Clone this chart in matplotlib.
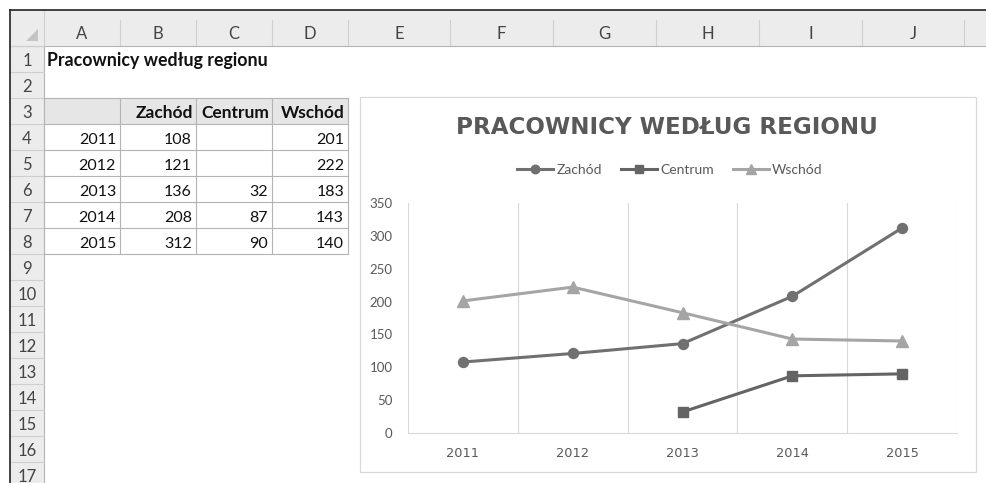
import numpy as np
import matplotlib
matplotlib.use("Agg")
import matplotlib.pyplot as plt
from matplotlib.patches import Rectangle, Polygon

# data from the sheet
years = [2011, 2012, 2013, 2014, 2015]
series_names = ["Zachód", "Centrum", "Wschód"]
zachod = [108, 121, 136, 208, 312]
centrum = [np.nan, np.nan, 32, 87, 90]
wschod = [201, 222, 183, 143, 140]
sheet_title = "Pracownicy według regionu"
chart_title = "PRACOWNICY WEDŁUG REGIONU"
col_letters = ["A", "B", "C", "D", "E", "F", "G", "H", "I", "J"]
row_numbers = list(range(1, 18))
y_ticks = [0, 50, 100, 150, 200, 250, 300, 350]

W, H = 987, 483
fig = plt.figure(figsize=(W / 100, H / 100), dpi=100)
fig.patch.set_facecolor("white")

bg = fig.add_axes([0, 0, 1, 1])
bg.set_xlim(0, W)
bg.set_ylim(H, 0)
bg.axis("off")

sheet_font = "Lato"
hdr_fill = "#ececec"
hdr_line = "#cfcfcf"
hdr_text = "#444444"

# sheet layout (pixels)
col_edges = [44, 120, 196, 272, 348, 450, 553, 656, 759, 862, 964]
top, hdr_bot, row_h = 10, 46, 26

# column header strip
bg.add_patch(Rectangle((10, top), W - 10, hdr_bot - top, facecolor=hdr_fill, edgecolor="none"))
# row header strip
bg.add_patch(Rectangle((10, hdr_bot), 44 - 10, H - hdr_bot, facecolor=hdr_fill, edgecolor="none"))
for x in col_edges:
    bg.plot([x, x], [20 if x > 44 else top, hdr_bot], color=hdr_line, lw=0.8)
bg.plot([44, 44], [hdr_bot, H], color="#b5b5b5", lw=0.8)
bg.plot([10, W], [hdr_bot, hdr_bot], color="#b5b5b5", lw=0.8)
for i in range(len(row_numbers) + 1):
    y = hdr_bot + i * row_h
    bg.plot([10, 44], [y, y], color=hdr_line, lw=0.8)
bg.plot([10, W], [top, top], color="#222222", lw=1.2)
bg.plot([10, 10], [top, H], color="#222222", lw=1.2)
bg.add_patch(Polygon([[26, 41], [38, 41], [38, 29]], closed=True, facecolor="#c4c4c4", edgecolor="none"))

for i, c in enumerate(col_letters):
    xc = (col_edges[i] + col_edges[i + 1]) / 2
    bg.text(xc, 34, c, ha="center", va="center", fontsize=12, color=hdr_text, family=sheet_font)
for i, r in enumerate(row_numbers):
    yb = hdr_bot + (i + 1) * row_h
    bg.text(27, yb - 6, str(r), ha="center", va="baseline", fontsize=12, color=hdr_text, family=sheet_font)

# A1 title
bg.text(47, hdr_bot + row_h - 6, sheet_title, ha="left", va="baseline", fontsize=12.8,
        fontweight="bold", color="#111111", family=sheet_font)

# table A3:D8
t_top = hdr_bot + 2 * row_h
n_rows = len(years) + 1
bg.add_patch(Rectangle((col_edges[0], t_top), col_edges[4] - col_edges[0], row_h,
                       facecolor="#e7e6e6", edgecolor="none"))
for i in range(n_rows + 1):
    y = t_top + i * row_h
    bg.plot([col_edges[0], col_edges[4]], [y, y], color="#b4b4b4", lw=0.8)
for x in col_edges[:5]:
    bg.plot([x, x], [t_top, t_top + n_rows * row_h], color="#b4b4b4", lw=0.8)

for j, name in enumerate(series_names):
    bg.text(col_edges[j + 2] - 3, t_top + row_h - 6, name, ha="right", va="baseline",
            fontsize=12.5, fontweight="bold", color="#111111", family=sheet_font)
columns = [zachod, centrum, wschod]
for i, yr in enumerate(years):
    yb = t_top + (i + 2) * row_h - 6
    bg.text(col_edges[1] - 4, yb, str(yr), ha="right", va="baseline", fontsize=11.5,
            color="#111111", family=sheet_font)
    for j, col in enumerate(columns):
        v = col[i]
        if not np.isnan(v):
            bg.text(col_edges[j + 2] - 4, yb, str(int(v)), ha="right", va="baseline",
                    fontsize=11.5, color="#111111", family=sheet_font)

# chart box
bg.add_patch(Rectangle((360, 97), 976 - 360, 472 - 97, facecolor="white", edgecolor="#d9d9d9", lw=0.9))

fig.text(667 / W, 1 - 127 / H, chart_title, ha="center", va="center", fontsize=16.6,
         fontweight="bold", color="#595959", family="DejaVu Sans")

# plot area
ax = fig.add_axes([408 / W, 1 - 433 / H, (957 - 408) / W, (433 - 203) / H])
ax.patch.set_alpha(0)
x = np.arange(len(years))
ax.plot(x, zachod, color="#707070", lw=2.2, marker="o", ms=7.2, label=series_names[0], zorder=3)
ax.plot(x, centrum, color="#646464", lw=2.2, marker="s", ms=7, label=series_names[1], zorder=3)
ax.plot(x, wschod, color="#a5a5a5", lw=2.2, marker="^", ms=8.5, label=series_names[2], zorder=3)

ax.set_xlim(-0.5, len(years) - 0.5)
ax.set_ylim(0, 350)
ax.set_yticks(y_ticks)
ax.set_xticks(x)
ax.set_xticklabels([str(y) for y in years])
for b in np.arange(-0.5, len(years), 1.0):
    ax.axvline(b, color="#d9d9d9", lw=0.8, zorder=1)
for s in ["top", "right", "left"]:
    ax.spines[s].set_visible(False)
ax.spines["bottom"].set_color("#d9d9d9")
ax.spines["bottom"].set_linewidth(0.8)
ax.tick_params(axis="both", length=0, colors="#595959")
ax.tick_params(axis="y", pad=11, labelsize=9.5)
ax.tick_params(axis="x", pad=10, labelsize=9.3)
for lab in ax.get_yticklabels():
    lab.set_family(sheet_font)
for lab in ax.get_xticklabels():
    lab.set_family("DejaVu Sans")

leg = fig.legend(loc="center", bbox_to_anchor=(670 / W, 1 - 170 / H), ncol=3, frameon=False,
                 handlelength=2.6, handletextpad=0.2, columnspacing=1.4, markerscale=0.85,
                 prop={"family": sheet_font, "size": 10})
for t in leg.get_texts():
    t.set_color("#595959")

fig.savefig("out.png", dpi=100, facecolor="white")
